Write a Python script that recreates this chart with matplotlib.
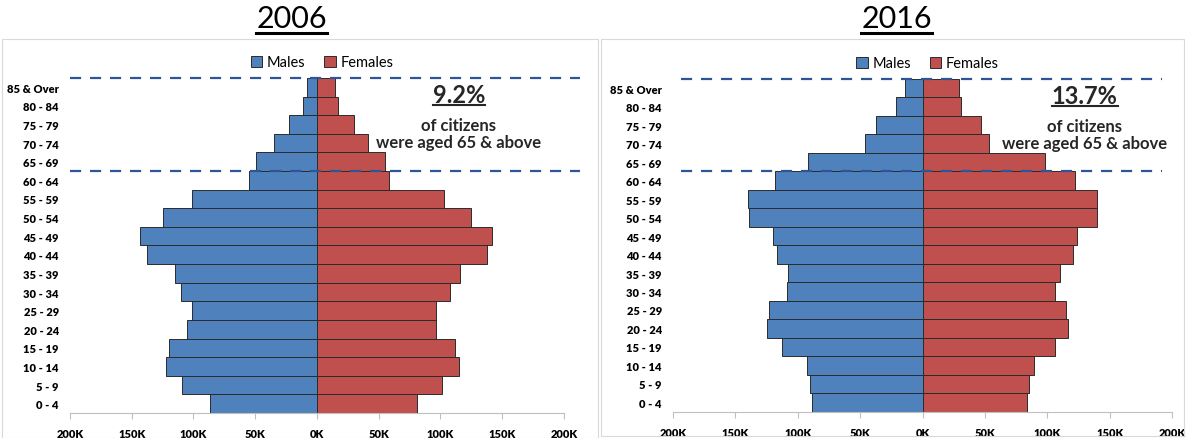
import numpy as np
import matplotlib
matplotlib.use("Agg")
import matplotlib.pyplot as plt
from matplotlib.patches import Rectangle
from matplotlib.lines import Line2D

plt.rcParams['font.family'] = ['Lato', 'DejaVu Sans']

# age groups, bottom to top
ages = ['0 - 4', '5 - 9', '10 - 14', '15 - 19', '20 - 24', '25 - 29', '30 - 34',
        '35 - 39', '40 - 44', '45 - 49', '50 - 54', '55 - 59', '60 - 64',
        '65 - 69', '70 - 74', '75 - 79', '80 - 84', '85 & Over']

# population in thousands
males_2006 = [87, 109, 122, 120, 105, 101, 110, 115, 138, 143, 125, 101, 55, 49, 35, 23, 11, 8]
females_2006 = [81, 101, 115, 112, 96, 96, 108, 116, 138, 142, 125, 103, 58, 55, 41, 30, 17, 15]
males_2016 = [89, 90, 93, 113, 125, 123, 109, 108, 117, 120, 139, 140, 118, 92, 46, 37, 21, 14]
females_2016 = [84, 85, 89, 106, 117, 115, 106, 110, 121, 124, 140, 140, 122, 98, 53, 47, 31, 29]

years = ['2006', '2016']
pct_65 = ['9.2%', '13.7%']

xticks = [-200, -150, -100, -50, 0, 50, 100, 150, 200]
xticklabels = ['200K', '150K', '100K', '50K', '0K', '50K', '100K', '150K', '200K']

male_col = '#4F81BD'
female_col = '#C0504D'
dash_col = '#2E5597'

fig = plt.figure(figsize=(11.86, 4.39), dpi=100)

panels = [
    dict(rect=[0.059, 0.057, 0.4165, 0.763], males=males_2006, females=females_2006,
         dash=(0.0, 1.032), note_x=115, box=[0.002, 0.0, 0.502, 0.909], title_x=0.246),
    dict(rect=[0.5675, 0.06, 0.4207, 0.758], males=males_2016, females=females_2016,
         dash=(0.016, 0.98), note_x=130, box=[0.507, 0.004, 0.491, 0.905], title_x=0.756),
]

y = np.arange(len(ages))
for i, p in enumerate(panels):
    fig.patches.append(Rectangle((p['box'][0], p['box'][1]), p['box'][2], p['box'][3],
                                 transform=fig.transFigure, fill=False,
                                 edgecolor='#D9D9D9', lw=0.8))
    ax = fig.add_axes(p['rect'])
    ax.barh(y, -np.array(p['males']), height=1.0, color=male_col,
            edgecolor='#2b2b2b', lw=0.7, label='Males')
    ax.barh(y, p['females'], height=1.0, color=female_col,
            edgecolor='#2b2b2b', lw=0.7, label='Females')
    ax.set_xlim(-200, 200)
    ax.set_ylim(-0.5, len(ages) - 0.5)
    ax.set_yticks(y)
    ax.set_yticklabels(ages, fontsize=8, fontweight='heavy')
    ax.tick_params(axis='y', length=0, pad=8)
    ax.set_xticks(xticks)
    ax.set_xticklabels(xticklabels, fontsize=8, fontweight='heavy')
    ax.tick_params(axis='x', length=4, color='#BFBFBF', pad=7)
    for s in ['top', 'right', 'left']:
        ax.spines[s].set_visible(False)
    ax.spines['bottom'].set_color('#BFBFBF')

    # 65+ band
    for yy in [len(ages) - 0.5, 12.5]:
        ax.axhline(yy, xmin=p['dash'][0], xmax=p['dash'][1], color=dash_col,
                   lw=1.6, ls=(0, (5, 4)), clip_on=False, zorder=5)

    ax.text(p['note_x'], 16.6, pct_65[i], ha='center', va='center', fontsize=17,
            fontweight='bold', color='#262626')
    ax.text(p['note_x'], 14.95, 'of citizens', ha='center', va='center', fontsize=12,
            fontweight='bold', color='#262626')
    ax.text(p['note_x'], 14.05, 'were aged 65 & above', ha='center', va='center',
            fontsize=12, fontweight='bold', color='#262626')

    ax.legend(loc='lower center', bbox_to_anchor=(0.51, 1.0), ncol=2, frameon=False,
              fontsize=10.5, handlelength=0.8, handleheight=0.8, handletextpad=0.3,
              columnspacing=1.3, borderaxespad=0.2)

    p['ax'] = ax

# titles with underline
fig.canvas.draw()
r = fig.canvas.get_renderer()
for i, p in enumerate(panels):
    t = fig.text(p['title_x'], 0.957, years[i], ha='center', va='center',
                 fontsize=22, color='black')
    bb = t.get_window_extent(r).transformed(fig.transFigure.inverted())
    fig.lines.append(Line2D([bb.x0, bb.x1], [0.922, 0.922],
                            transform=fig.transFigure, color='black', lw=2.2))

# underline the percentages
for i, p in enumerate(panels):
    for t in p['ax'].texts:
        if t.get_text() == pct_65[i]:
            bb = t.get_window_extent(r).transformed(fig.transFigure.inverted())
            fig.lines.append(Line2D([bb.x0, bb.x1], [bb.y0 + 0.002, bb.y0 + 0.002],
                                    transform=fig.transFigure, color='#262626', lw=1.5))

fig.savefig('out.png', dpi=100)
